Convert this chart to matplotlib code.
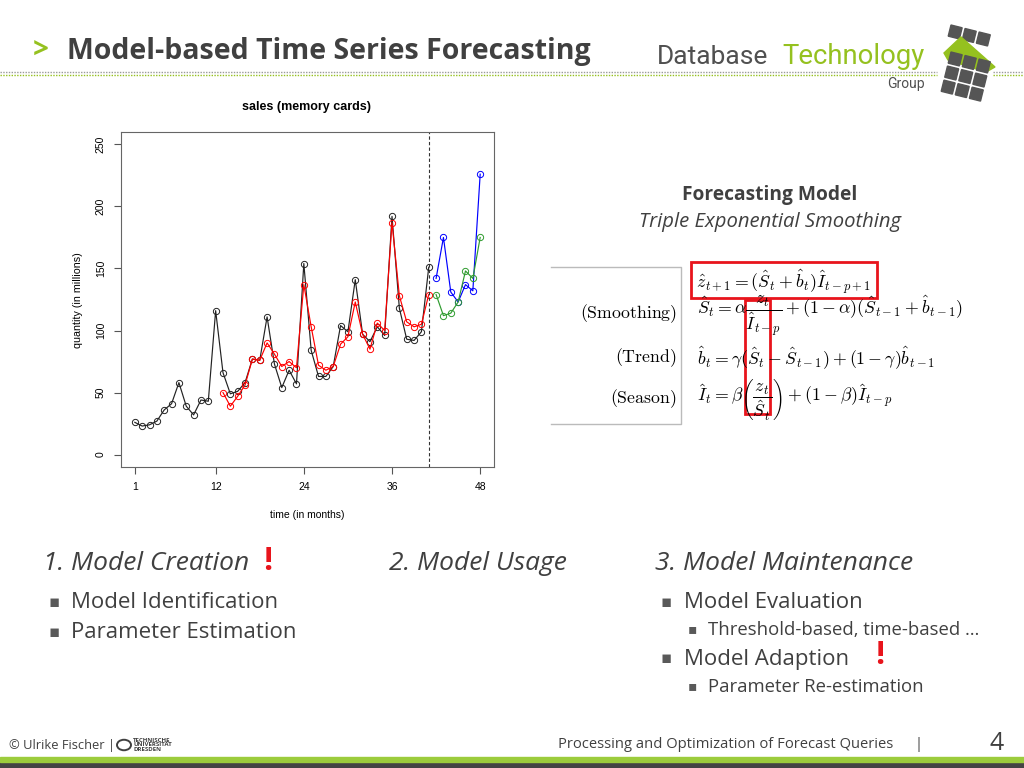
import numpy as np
import matplotlib
matplotlib.use('Agg')
import matplotlib.pyplot as plt
from matplotlib.patches import Rectangle, Polygon, Circle
from matplotlib.lines import Line2D

# observed monthly sales (months 1..41)
sales = [26, 23, 24, 27, 36, 41, 58, 39, 32, 44, 43, 116,
         66, 49, 51, 58, 77, 76, 111, 73, 54, 68, 57, 154,
         84, 63, 63, 71, 104, 99, 141, 97, 91, 103, 96, 192,
         118, 93, 92, 99, 151]
# fitted values of the smoothing model (months 13..41)
fitted = [50, 39, 47, 56, 77, 76, 90, 81, 71, 75, 70, 137,
          103, 72, 68, 71, 89, 95, 123, 97, 85, 106, 100, 187,
          128, 107, 103, 105, 129]
# forecasts (months 42..48)
actual_future = [142, 175, 131, 123, 137, 132, 226]
forecast = [129, 112, 114, 123, 148, 142, 175]
xticks = [1, 12, 24, 36, 48]
yticks = [0, 50, 100, 150, 200, 250]
split_month = 41

W, H = 1024, 768
DARK = '#404040'
GREEN = '#95c11f'
RED = '#e8141c'
SLIDE_FONT = ['Open Sans', 'DejaVu Sans']
R_FONT = ['Liberation Sans', 'DejaVu Sans']
LOGO_FONT = ['Roboto', 'DejaVu Sans']

plt.rcParams['mathtext.fontset'] = 'cm'

fig = plt.figure(figsize=(W / 100, H / 100), dpi=100)
fig.patch.set_facecolor('white')


# converts slide pixel coordinates to figure fractions
def px(x, y):
    return x / W, 1 - y / H


def txt(x, y, s, **kw):
    kw.setdefault('family', SLIDE_FONT)
    kw.setdefault('color', DARK)
    return fig.text(*px(x, y), s, **kw)


def hline(x0, x1, y, **kw):
    fig.add_artist(Line2D([x0 / W, x1 / W], [1 - y / H] * 2, **kw))


# ---------- header ----------
txt(33, 51, '>', size=20, weight='bold', color=GREEN, va='center')
txt(67, 51, 'Model-based Time Series Forecasting', size=20.5, weight='bold', va='center')
for x0, x1 in [(0, 937), (993, 1024)]:
    hline(x0, x1, 72, color='#9a9a9a', lw=1, ls=(0, (1, 1)))
    hline(x0, x1, 75, color=GREEN, lw=1, ls=(0, (1, 1)))
txt(657, 64, 'Database', size=19, family=LOGO_FONT, color='#505050', va='baseline')
txt(782, 64, 'Technology', size=19.8, family=LOGO_FONT, color=GREEN, va='baseline')
txt(925, 88, 'Group', size=10, family=LOGO_FONT, color='#505050', ha='right', va='baseline')

# logo icon: tilted grid of squares with a green arrow
logo = fig.add_axes([936 / W, 1 - 104 / H, 64 / W, 84 / H])
logo.set_xlim(936, 1000)
logo.set_ylim(104, 20)
logo.axis('off')
th = np.deg2rad(14)
u = np.array([np.cos(th), np.sin(th)])      # along a row
v = np.array([-np.sin(th), np.cos(th)])     # down a column
side = 11.5
pitch = 14.5


def square(corner):
    return Polygon([corner, corner + side * u, corner + side * (u + v), corner + side * v],
                   color='#555555')


top_row = np.array([951.0, 25.0])
for c in range(3):
    logo.add_patch(square(top_row + c * pitch * u))
logo.add_patch(Polygon([[944, 53], [961, 37], [995, 67], [986, 72], [948, 60]], color=GREEN))
grid0 = np.array([951.0, 52.0])
for r in range(3):
    for c in range(3):
        logo.add_patch(square(grid0 + c * pitch * u + r * pitch * v))

# ---------- chart ----------
ax = fig.add_axes([121 / W, 1 - 467 / H, 373 / W, 335 / H])
mk = dict(marker='o', markersize=4.5, markerfacecolor='none', markeredgewidth=0.7, lw=0.85)
ax.plot(range(1, split_month + 1), sales, color='#222222', **mk)
ax.plot(range(13, split_month + 1), fitted, color='red', **mk)
ax.plot(range(split_month + 1, 49), actual_future, color='blue', **mk)
ax.plot(range(split_month + 1, 49), forecast, color='#2e9b2e', **mk)
ax.axvline(split_month, color='#333333', ls=(0, (3, 2)), lw=0.8)
ax.set_xlim(1 - 0.04 * 47, 48 + 0.04 * 47)
ax.set_ylim(-10, 260)
ax.set_xticks(xticks)
ax.set_yticks(yticks)
ax.tick_params(direction='out', length=5, width=0.8, color='#555555', pad=6)
for lab in ax.get_xticklabels() + ax.get_yticklabels():
    lab.set_family(R_FONT)
    lab.set_fontsize(7.5)
for lab in ax.get_yticklabels():
    lab.set_rotation(90)
    lab.set_va('center')
for s in ax.spines.values():
    s.set_color('#666666')
    s.set_linewidth(0.8)
txt(307, 107, 'sales (memory cards)', size=9, weight='bold', family=R_FONT, color='black', ha='center', va='center')
txt(307, 515, 'time (in months)', size=7.5, family=R_FONT, color='black', ha='center', va='center')
txt(78, 300, 'quantity (in millions)', size=7.7, family=R_FONT, color='black', ha='center', va='center', rotation=90)

# ---------- forecasting model ----------
txt(770, 195, 'Forecasting Model', size=13.8, weight='bold', ha='center', va='center')
txt(770, 222, 'Triple Exponential Smoothing', size=14.6, style='italic', ha='center', va='center')
fig.add_artist(Line2D([551 / W, 681 / W, 681 / W, 551 / W],
                      [1 - 267 / H, 1 - 267 / H, 1 - 424 / H, 1 - 424 / H], color='#bbbbbb', lw=1))
eq_size = 12.8
fig.text(*px(677, 314), r'$\mathrm{(Smoothing)}$', size=eq_size, ha='right', va='center')
fig.text(*px(677, 358), r'$\mathrm{(Trend)}$', size=eq_size, ha='right', va='center')
fig.text(*px(677, 399), r'$\mathrm{(Season)}$', size=eq_size, ha='right', va='center')
fig.text(*px(696, 282), r'$\hat{z}_{t+1} = (\hat{S}_t + \hat{b}_t)\hat{I}_{t-p+1}$', size=eq_size, va='center')
fig.text(*px(697, 316), r'$\hat{S}_t = \alpha\dfrac{z_t}{\hat{I}_{t-p}} + (1-\alpha)(\hat{S}_{t-1} + \hat{b}_{t-1})$',
         size=eq_size, va='center')
fig.text(*px(697, 358), r'$\hat{b}_t = \gamma(\hat{S}_t - \hat{S}_{t-1}) + (1-\gamma)\hat{b}_{t-1}$',
         size=eq_size, va='center')
fig.text(*px(697, 400), r'$\hat{I}_t = \beta\left(\dfrac{z_t}{\hat{S}_t}\right) + (1-\beta)\hat{I}_{t-p}$',
         size=eq_size, va='center')
fig.add_artist(Rectangle(px(691, 298), 186 / W, 36 / H, fill=False, ec=RED, lw=2))
fig.add_artist(Rectangle(px(745, 414), 25 / W, 114 / H, fill=False, ec=RED, lw=2))

# ---------- bottom text ----------
head = dict(size=19, style='italic', va='center')
txt(43, 564, '1. Model Creation', **head)
txt(389, 564, '2. Model Usage', **head)
txt(655, 564, '3. Model Maintenance', **head)
txt(263, 561, '!', size=23, weight='bold', color=RED, va='center')
txt(875, 655, '!', size=23, weight='bold', color=RED, va='center')

bullets = [(48, 71, 603, 'Model Identification', 16),
           (48, 71, 633, 'Parameter Estimation', 16),
           (661, 684, 603, 'Model Evaluation', 16),
           (688, 708, 630, 'Threshold-based, time-based \u2026', 13.3),
           (661, 684, 659, 'Model Adaption', 16),
           (688, 708, 687, 'Parameter Re-estimation', 13.3)]
for bx, tx, y, s, fs in bullets:
    txt(bx, y, '\u25aa', size=fs * 0.75, color='#595959', va='center')
    txt(tx, y, s, size=fs, va='center')

# ---------- footer ----------
txt(9, 745, '\u00a9 Ulrike Fischer |', size=9.3, va='center')
fig.add_artist(Circle(px(124, 745), 7 / W, transform=fig.transFigure, fill=False, ec=DARK, lw=1.4))
txt(133, 745, 'TECHNISCHE\nUNIVERSIT\u00c4T\nDRESDEN', size=4.4, weight='bold', va='center', linespacing=0.85)
txt(558, 745, 'Processing and Optimization of Forecast Queries', size=10.6, va='center')
txt(918, 745, '|', size=10.6, va='center', ha='center')
txt(997, 743, '4', size=18, va='center', ha='center')
fig.add_artist(Rectangle((0, 0), 1, 6 / H, color='#444444'))
fig.add_artist(Rectangle((0, 6 / H), 1, 5 / H, color='#9ccc3c'))

fig.savefig('out.png', dpi=100)
